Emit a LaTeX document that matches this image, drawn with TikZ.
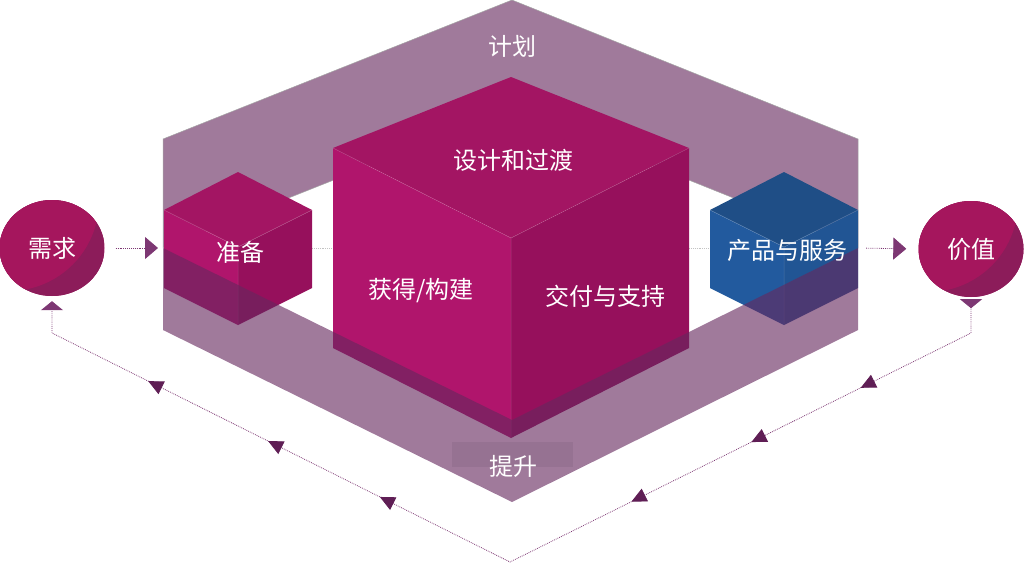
\documentclass[tikz,border=0pt]{standalone}
\usepackage{fontspec}
\setmainfont{Noto Sans CJK SC}
\usetikzlibrary{arrows.meta,decorations.markings,shapes.geometric}
\definecolor{ringc}{RGB}{160,122,155}
\definecolor{bandc}{RGB}{102,40,94}
\definecolor{magT}{RGB}{163,21,99}
\definecolor{magL}{RGB}{176,21,108}
\definecolor{magR}{RGB}{150,16,92}
\definecolor{bluT}{RGB}{31,78,134}
\definecolor{bluL}{RGB}{34,90,158}
\definecolor{bluR}{RGB}{33,85,148}
\definecolor{circL}{RGB}{165,22,93}
\definecolor{circD}{RGB}{140,28,90}
\definecolor{arrc}{RGB}{95,30,85}
\definecolor{dotc}{RGB}{125,55,115}
\definecolor{gdotc}{RGB}{195,195,195}
\newcommand\mkcube[7]{%
 \fill[#7T] (#1,#2) -- ++(#3,#4) -- ++(-#3,#5) -- ++(-#3,-#5) -- cycle;
 \fill[#7L] (#1,#2) ++(-#3,#4) -- ++(#3,#5) -- ++(0,#6) -- ++(-#3,-#5) -- cycle;
 \fill[#7R] (#1,#2) ++(#3,#4) -- ++(-#3,#5) -- ++(0,#6) -- ++(#3,-#5) -- cycle;
 \draw[white,opacity=.18,line width=.5pt] (#1,#2) ++(-#3,#4) -- ++(#3,#5) -- ++(#3,-#5)
   (#1,#2) ++(0,#4) ++(0,#5) -- ++(0,#6);
}
\begin{document}
\begin{tikzpicture}[x=1pt,y=-1pt,
  lbl/.style={text=white,font=\fontsize{24}{28}\selectfont,inner sep=0pt},
  bubble/.style={ellipse,minimum width=105pt,minimum height=96pt,inner sep=0pt,
    fill=circL,text=white,font=\fontsize{24}{28}\selectfont,
    path picture={\fill[circD] (path picture bounding box.south west) rectangle (path picture bounding box.north east);
      \fill[circL] ([xshift=-43pt,yshift=47pt]path picture bounding box.center) circle (90pt);}},
  pdot/.style={draw=dotc,line width=0.8pt,dash pattern=on 0.8pt off 1.1pt},
  gdot/.style={draw=gdotc,line width=0.8pt,dash pattern=on 0.8pt off 1.1pt},
  bigtip/.style={Triangle[length=13pt,width=22pt]},
  midtip/.style={Triangle[length=15pt,width=14pt]}]
\useasboundingbox (0,0) rectangle (1024,563);

% upper band of the ring
\fill[ringc,draw=gray!70,line width=0.5pt] (163,139) -- (512,0) -- (858,139) -- (858,248) -- (512,109) -- (163,248) -- cycle;

% coordinates on cube sides
\coordinate (zbW) at (164,248);
\coordinate (zbE) at (312,248);
\coordinate (bigW) at (333,248);
\coordinate (bigE) at (689,248);
\coordinate (cpW) at (710,248);
\coordinate (cpE) at (858,248);

% grey dotted links behind the cubes
\draw[gdot] (zbE) -- (bigW);
\draw[gdot] (bigE) -- (cpW);

% cubes
\mkcube{238}{172}{74}{38}{37}{78}{mag}
\mkcube{511}{77}{178}{71}{90}{200}{mag}
\mkcube{784}{172}{74}{38}{37}{78}{blu}

% lower band of the ring, over the cubes
\fill[bandc,opacity=0.62] (163,248) -- (512,420) -- (858,248) -- (858,330) -- (512,502) -- (163,330) -- cycle;
\fill[black,opacity=0.06] (452,442) rectangle (573,467);

% labels
\node[lbl] (jh) at (512,46) {计划};
\node[lbl] (sj) at (513,160) {设计和过渡};
\node[lbl] (hd) at (421,291) {获得/构建};
\node[lbl] (jf) at (605,296) {交付与支持};
\node[lbl] (zb) at (240,252) {准备};
\node[lbl] (cp) at (787,250) {产品与服务};
\node[lbl] (ts) at (513,466) {提升};

% circles
\node[bubble] (xq) at (52,248) {需求};
\node[bubble] (jz) at (971,249) {价值};

% main flow arrows
\draw[pdot,-{Triangle[length=13pt,width=22pt]},shorten <=11pt,shorten >=6pt] (xq.east) -- (zbW);
\draw[pdot,-{Triangle[length=13pt,width=22pt]},shorten <=8pt,shorten >=12pt] (cpE) -- (jz.west);

% feedback loop
\coordinate (lp1) at (jz.south |- 0,333);
\coordinate (lp2) at (510,562);
\coordinate (lp3) at (xq.south |- 0,333);
\draw[pdot,{Triangle[reversed,length=9pt,width=22pt]}-{Triangle[length=9pt,width=22pt]},
  decoration={markings,
    mark=at position 157pt with {\arrow[arrc]{Triangle[length=15pt,width=14pt]}},
    mark=at position 279pt with {\arrow[arrc]{Triangle[length=15pt,width=14pt]}},
    mark=at position 413pt with {\arrow[arrc]{Triangle[length=15pt,width=14pt]}},
    mark=at position 694pt with {\arrow[arrc]{Triangle[length=15pt,width=14pt]}},
    mark=at position 819pt with {\arrow[arrc]{Triangle[length=15pt,width=14pt]}},
    mark=at position 953pt with {\arrow[arrc]{Triangle[length=15pt,width=14pt]}}},
  postaction={decorate}]
  ([yshift=-2pt]jz.south) -- (lp1) -- (lp2) -- (lp3) -- ([yshift=-5pt]xq.south);
\end{tikzpicture}
\end{document}
